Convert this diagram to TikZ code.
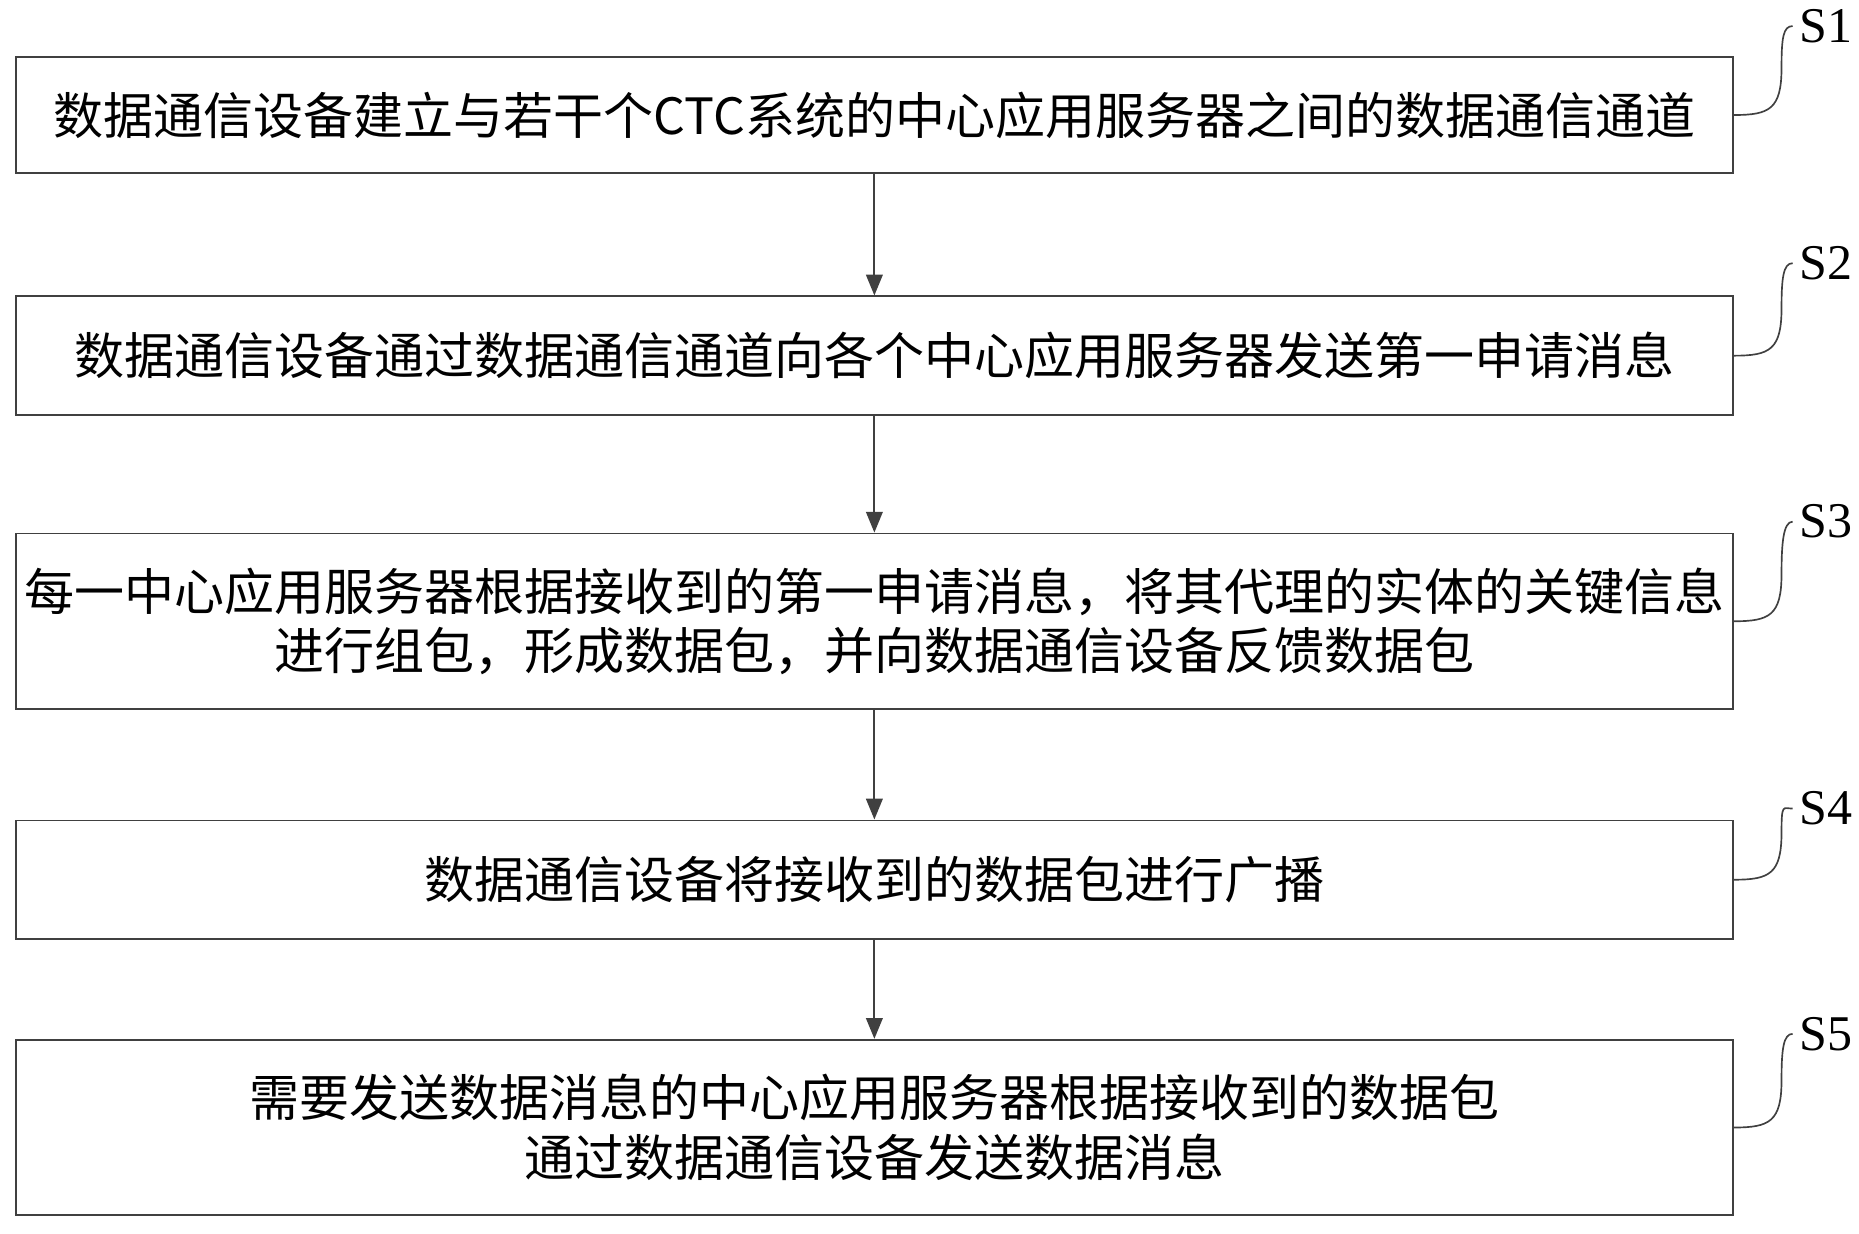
\documentclass[tikz,border=0pt]{standalone}
\usepackage{fontspec}
\setmainfont{Liberation Serif}
\newfontfamily\cjk{Noto Sans CJK SC}
\usetikzlibrary{arrows.meta}
\usetikzlibrary{positioning}
\begin{document}
\begin{tikzpicture}[x=0.02cm,y=-0.02cm,
		stepbox/.style={draw=black!75, line width=0.9pt, minimum width=28.98cm, align=center, font=\cjk\fontsize{24}{28.5}\selectfont},
		lbl/.style={font=\fontsize{24}{24}\selectfont, anchor=west},
	]
		\useasboundingbox (0,0) rectangle (1568,1040);
		\node[stepbox, minimum height=1.96cm] (s1) at (737.5,97) {数据通信设备建立与若干个CTC系统的中心应用服务器之间的数据通信通道};
		\node[stepbox, minimum height=2cm] (s2) at (737.5,300) {数据通信设备通过数据通信通道向各个中心应用服务器发送第一申请消息};
		\node[stepbox, minimum height=2.96cm] (s3) at (737.5,524) {每一中心应用服务器根据接收到的第一申请消息，将其代理的实体的关键信息\\进行组包，形成数据包，并向数据通信设备反馈数据包};
		\node[stepbox, minimum height=2cm] (s4) at (737.5,742) {数据通信设备将接收到的数据包进行广播};
		\node[stepbox, minimum height=2.96cm] (s5) at (737.5,951) {需要发送数据消息的中心应用服务器根据接收到的数据包\\通过数据通信设备发送数据消息};

		\foreach \a/\b in {s1/s2,s2/s3,s3/s4,s4/s5}
			\draw[black!75, line width=0.9pt, -{Triangle[length=10pt,width=8pt]}] (\a.south) -- (\b.north);

		% step labels
		\foreach \s/\t/\y in {s1/S1/22,s2/S2/222,s3/S3/440,s4/S4/682,s5/S5/872}{
			\node[lbl] (\s l) at (1512,\y) {\t};
			\draw[black!75, line width=0.8pt] (\s.east) .. controls +(30,0) and +(0,35) .. +(40,-40) .. controls +(0,-25) and +(-8,0) .. (\s l.west);
		}
	\end{tikzpicture}
\end{document}
